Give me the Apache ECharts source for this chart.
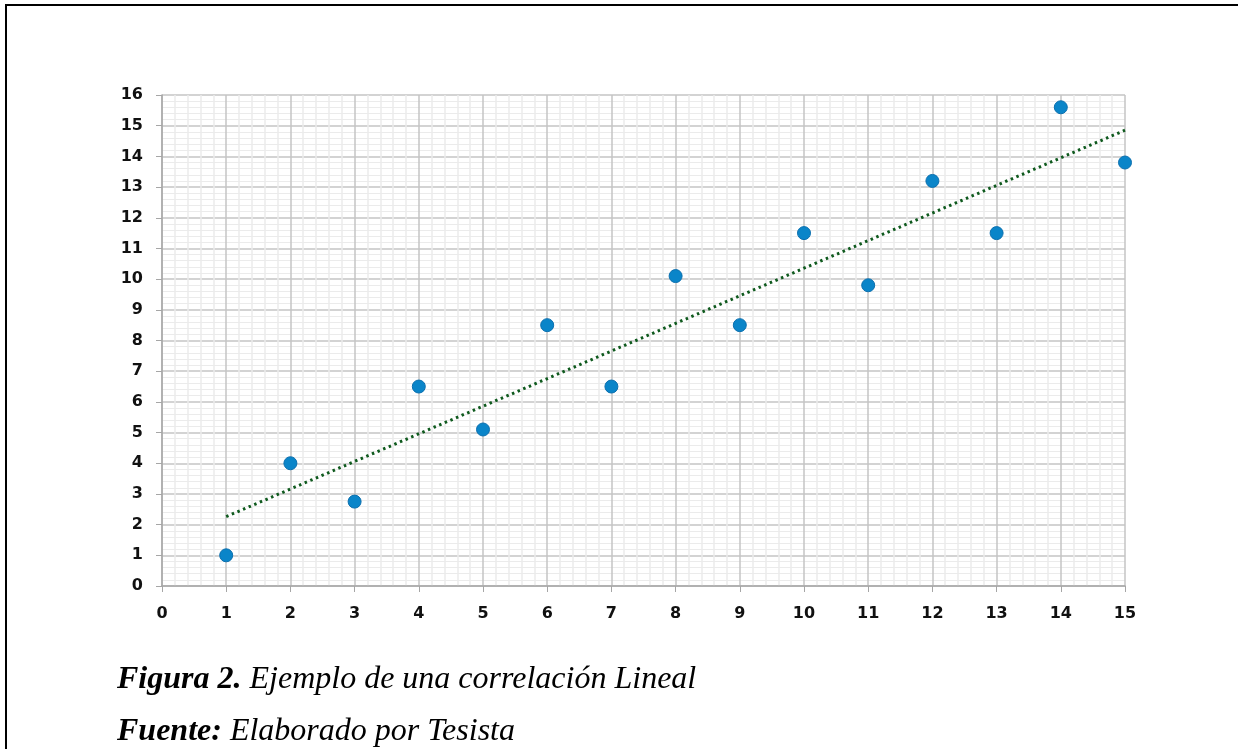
<!DOCTYPE html>
<html>
<head>
<meta charset="utf-8">
<script src="https://cdn.jsdelivr.net/npm/echarts@6/dist/echarts.min.js"></script>
<style>
html,body{margin:0;padding:0;background:#fff;}
#wrap{position:relative;width:1241px;height:749px;overflow:hidden;}
#frame{position:absolute;left:5px;top:4px;width:1233px;height:760px;border-top:2px solid #000;border-left:2px solid #000;box-sizing:border-box;}
#chart{position:absolute;left:0;top:0;width:1241px;height:749px;}
</style>
</head>
<body>
<div id="wrap">
<div id="frame"></div>
<div id="chart"></div>
</div>
<script>
const xValues = [1, 2, 3, 4, 5, 6, 7, 8, 9, 10, 11, 12, 13, 14, 15];
const yValues = [1, 4, 2.75, 6.5, 5.1, 8.5, 6.5, 10.1, 8.5, 11.5, 9.8, 13.2, 11.5, 15.6, 13.8];
const captionTitle = 'Figura 2.';
const captionText = ' Ejemplo de una correlación Lineal';
const sourceTitle = 'Fuente:';
const sourceText = ' Elaborado por Tesista';

// linear least-squares trend line from the data
const n = xValues.length;
const mx = xValues.reduce((a, b) => a + b, 0) / n;
const my = yValues.reduce((a, b) => a + b, 0) / n;
let sxy = 0, sxx = 0;
for (let i = 0; i < n; i++) { sxy += (xValues[i] - mx) * (yValues[i] - my); sxx += (xValues[i] - mx) ** 2; }
const slope = sxy / sxx, intercept = my - slope * mx;
const xFirst = xValues[0], xLast = xValues[n - 1];
const trend = [[xFirst, intercept + slope * xFirst], [xLast, intercept + slope * xLast]];

const chart = echarts.init(document.getElementById('chart'));
const labelStyle = { fontFamily: 'DejaVu Sans', fontWeight: 'bold', fontSize: 16, color: '#111' };
const capB = { fontFamily: 'Liberation Serif', fontStyle: 'italic', fontWeight: 'bold', fontSize: 32, fill: '#000' };
const capI = { fontFamily: 'Liberation Serif', fontStyle: 'italic', fontSize: 32, fill: '#000' };
chart.setOption({
  animation: false,
  backgroundColor: 'transparent',
  grid: { left: 162, right: 116, top: 95, bottom: 163, containLabel: false },
  xAxis: {
    type: 'value', min: 0, max: 15, interval: 1,
    axisLine: { show: true, lineStyle: { color: '#a6a6a6', width: 1.5 } },
    axisTick: { show: true, length: 6, lineStyle: { color: '#a6a6a6' } },
    minorTick: { show: false, splitNumber: 5 },
    splitLine: { show: true, lineStyle: { color: '#c4c4c4', width: 1.5 } },
    minorSplitLine: { show: true, lineStyle: { color: '#ebebeb', width: 1.5 } },
    axisLabel: Object.assign({ margin: 20 }, labelStyle)
  },
  yAxis: {
    type: 'value', min: 0, max: 16, interval: 1,
    axisLine: { show: true, lineStyle: { color: '#a6a6a6', width: 1.5 } },
    axisTick: { show: true, length: 6, lineStyle: { color: '#a6a6a6' } },
    minorTick: { show: false, splitNumber: 5 },
    splitLine: { show: true, lineStyle: { color: '#c4c4c4', width: 1.5 } },
    minorSplitLine: { show: true, lineStyle: { color: '#ebebeb', width: 1.2 } },
    axisLabel: Object.assign({ margin: 19 }, labelStyle)
  },
  series: [
    {
      type: 'line', data: trend, symbol: 'none', z: 2,
      lineStyle: { color: '#0f5a1e', width: 3, type: [2.5, 3.6], cap: 'butt' }
    },
    {
      type: 'scatter', data: xValues.map((x, i) => [x, yValues[i]]), symbolSize: 13, z: 3,
      itemStyle: { color: '#0a85c9', borderColor: '#0b6fae', borderWidth: 1, opacity: 1 }
    }
  ],
  graphic: [
    {
      type: 'text', left: 117, top: 664,
      style: { text: '{b|' + captionTitle + '}{i|' + captionText + '}', rich: { b: capB, i: capI } }
    },
    {
      type: 'text', left: 117, top: 716,
      style: { text: '{b|' + sourceTitle + '}{i|' + sourceText + '}', rich: { b: capB, i: capI } }
    }
  ]
});
</script>
</body>
</html>
